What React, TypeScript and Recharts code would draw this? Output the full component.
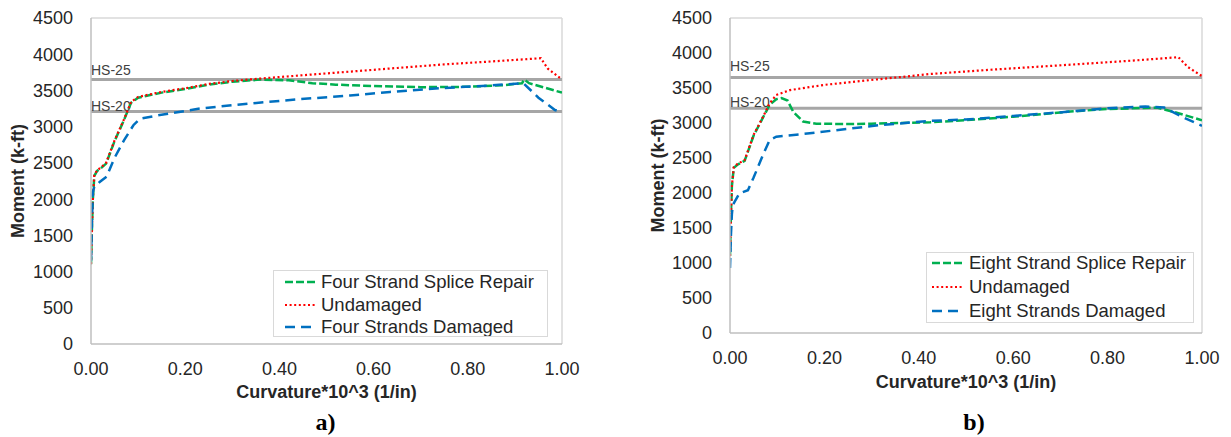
import React from 'react';
import { LineChart, Line, XAxis, YAxis, ReferenceLine, Legend } from 'recharts';

const FONT = '"Liberation Sans", Arial, Helvetica, sans-serif';

const xTicks = [0, 0.2, 0.4, 0.6, 0.8, 1.0];
const yTicks = [0, 500, 1000, 1500, 2000, 2500, 3000, 3500, 4000, 4500];
const hs25Value = 3650;
const hs20Value = 3210;

const xTitle = 'Curvature*10^3 (1/in)';
const yTitle = 'Moment (k-ft)';

// Panel a) [curvature, moment]
const aRepair: [number, number][] = [
  [0, 1100], [0.002, 1600], [0.004, 2000], [0.007, 2320], [0.013, 2390], [0.02, 2420],
  [0.032, 2490], [0.05, 2800], [0.07, 3090], [0.085, 3330], [0.1, 3400], [0.15, 3470],
  [0.2, 3520], [0.25, 3580], [0.3, 3620], [0.36, 3650], [0.42, 3640], [0.47, 3600],
  [0.52, 3580], [0.6, 3560], [0.7, 3545], [0.8, 3550], [0.88, 3575], [0.915, 3600],
  [0.92, 3650], [0.93, 3600], [1.0, 3470],
];
const aUndamaged: [number, number][] = [
  [0, 1100], [0.002, 1600], [0.004, 2000], [0.007, 2330], [0.013, 2400], [0.02, 2430],
  [0.032, 2500], [0.05, 2810], [0.07, 3100], [0.085, 3340], [0.1, 3410], [0.15, 3480],
  [0.2, 3530], [0.25, 3590], [0.3, 3630], [0.36, 3665], [0.45, 3710], [0.55, 3760],
  [0.65, 3810], [0.75, 3860], [0.85, 3900], [0.955, 3945], [0.97, 3800], [1.0, 3650],
];
const aDamaged: [number, number][] = [
  [0, 1150], [0.002, 1700], [0.004, 2100], [0.007, 2170], [0.019, 2240], [0.033, 2310],
  [0.05, 2570], [0.07, 2810], [0.09, 3020], [0.104, 3110], [0.146, 3160], [0.231, 3250],
  [0.338, 3320], [0.444, 3380], [0.55, 3430], [0.635, 3480], [0.741, 3530], [0.85, 3570],
  [0.918, 3600], [0.95, 3400], [0.985, 3230], [1.0, 3200],
];

// Panel b)
const bRepair: [number, number][] = [
  [0, 1100], [0.002, 1700], [0.004, 2100], [0.008, 2360], [0.017, 2410], [0.031, 2460],
  [0.05, 2820], [0.07, 3080], [0.084, 3260], [0.098, 3340], [0.109, 3355], [0.122, 3320],
  [0.134, 3160], [0.155, 3020], [0.183, 2990], [0.25, 2985], [0.3, 2990], [0.36, 3000],
  [0.424, 3010], [0.5, 3040], [0.6, 3090], [0.714, 3160], [0.8, 3200], [0.905, 3220],
  [0.95, 3140], [1.0, 3040],
];
const bUndamaged: [number, number][] = [
  [0, 1100], [0.002, 1700], [0.004, 2100], [0.008, 2370], [0.017, 2420], [0.031, 2470],
  [0.05, 2830], [0.07, 3090], [0.084, 3280], [0.098, 3400], [0.127, 3470], [0.2, 3545],
  [0.3, 3615], [0.36, 3655], [0.424, 3700], [0.55, 3760], [0.714, 3830], [0.85, 3890],
  [0.95, 3940], [0.97, 3800], [1.0, 3670],
];
const bDamaged: [number, number][] = [
  [0, 930], [0.002, 1400], [0.004, 1700], [0.006, 1830], [0.02, 1995], [0.038, 2040],
  [0.05, 2220], [0.07, 2545], [0.084, 2757], [0.098, 2805], [0.169, 2853], [0.318, 2971],
  [0.424, 3030], [0.5, 3050], [0.6, 3100], [0.714, 3160], [0.8, 3210], [0.88, 3235],
  [0.92, 3220], [0.96, 3080], [1.0, 2960],
];

const aNames = ['Four Strand Splice Repair', 'Undamaged', 'Four Strands Damaged'];
const bNames = ['Eight Strand Splice Repair', 'Undamaged', 'Eight Strands Damaged'];

const COLORS = ['#00b050', '#ff0000', '#0070c0'];
const DASHES = ['8 3', '2 2.6', '10 6'];
const WIDTHS = [2.5, 2.2, 2.5];

const toData = (pts: [number, number][]) => pts.map(([x, y]) => ({ x, y }));

const hsLabel = (text: string, dy: number) => (props: any) => {
  const vb = props.viewBox || {};
  return (
    <text x={vb.x} y={(vb.y || 0) + dy} fontSize={14} fill="#404040" fontFamily={FONT}>
      {text}
    </text>
  );
};

type LegendCfg = {
  left: number; top: number; width: number; height: number;
  padL: number; rowH: number; offY: number; gap: number;
};

const LegendBox = ({ names, cfg }: { names: string[]; cfg: LegendCfg }) => (
  <div
    style={{
      width: cfg.width, height: cfg.height, boxSizing: 'border-box',
      border: '1px solid #d9d9d9', background: '#fff', paddingLeft: cfg.padL,
      fontFamily: FONT, fontSize: 18.5, color: '#262626', overflow: 'hidden',
    }}
  >
    <div style={{ position: 'relative', top: cfg.offY }}>
      {names.map((n, i) => (
        <div key={n + i} style={{ height: cfg.rowH, display: 'flex', alignItems: 'center', whiteSpace: 'nowrap' }}>
          <svg width={32} height={6} style={{ marginRight: cfg.gap, flex: 'none' }}>
            <line x1={0} y1={3} x2={32} y2={3} stroke={COLORS[i]} strokeWidth={WIDTHS[i]} strokeDasharray={DASHES[i]} />
          </svg>
          <span>{n}</span>
        </div>
      ))}
    </div>
  </div>
);

type PanelProps = {
  left: number; width: number; height: number;
  marginRight: number; yAxisWidth: number; xAxisHeight: number;
  series: [number, number][][]; names: string[];
  legend: LegendCfg; yTitleOffset: number; xTitleOffset: number;
  hs25dy: number; hs20dy: number;
};

const Panel = (p: PanelProps) => (
  <div style={{ position: 'absolute', left: p.left, top: 0, width: p.width, height: p.height }}>
    <LineChart
      width={p.width}
      height={p.height}
      margin={{ top: 18, right: p.marginRight, bottom: 0, left: 0 }}
      style={{ fontFamily: FONT }}
    >
      <XAxis
        type="number"
        dataKey="x"
        domain={[0, 1]}
        ticks={xTicks}
        allowDataOverflow
        tickFormatter={(v: number) => v.toFixed(2)}
        height={p.xAxisHeight}
        tickLine={false}
        tickSize={0}
        tickMargin={18}
        axisLine={{ stroke: '#bfbfbf', strokeWidth: 1.5 }}
        tick={{ fontSize: 18, fill: '#262626', fontFamily: FONT }}
        label={{
          value: xTitle, position: 'insideBottom', offset: p.xTitleOffset,
          style: { fontWeight: 700, fontSize: 18, fill: '#262626', fontFamily: FONT },
        }}
      />
      <YAxis
        type="number"
        domain={[0, 4500]}
        ticks={yTicks}
        allowDataOverflow
        width={p.yAxisWidth}
        tickLine={false}
        tickSize={0}
        tickMargin={18}
        axisLine={{ stroke: '#bfbfbf', strokeWidth: 1.5 }}
        tick={{ fontSize: 18, fill: '#262626', fontFamily: FONT }}
        label={{
          value: yTitle, angle: -90, position: 'insideLeft', offset: p.yTitleOffset,
          style: { textAnchor: 'middle', fontWeight: 700, fontSize: 18, fill: '#262626', fontFamily: FONT },
        }}
      />
      <ReferenceLine y={4500} stroke="#d9d9d9" strokeWidth={1.5} />
      <ReferenceLine x={1} stroke="#d9d9d9" strokeWidth={1.5} />
      <ReferenceLine y={hs25Value} stroke="#a6a6a6" strokeWidth={3} label={hsLabel('HS-25', p.hs25dy)} />
      <ReferenceLine y={hs20Value} stroke="#a6a6a6" strokeWidth={3} label={hsLabel('HS-20', p.hs20dy)} />
      {p.series.map((s, i) => (
        <Line
          key={p.names[i] + i}
          data={toData(s)}
          dataKey="y"
          name={p.names[i]}
          type="linear"
          stroke={COLORS[i]}
          strokeWidth={WIDTHS[i]}
          strokeDasharray={DASHES[i]}
          dot={false}
          activeDot={false}
          isAnimationActive={false}
        />
      ))}
      <Legend
        layout="vertical"
        align="center"
        verticalAlign="middle"
        wrapperStyle={{ position: 'absolute', left: p.legend.left, top: p.legend.top, width: p.legend.width, height: p.legend.height }}
        content={() => <LegendBox names={p.names} cfg={p.legend} />}
      />
    </LineChart>
  </div>
);

const subStyle: React.CSSProperties = {
  position: 'absolute', top: 410, width: 60, textAlign: 'center',
  fontFamily: '"Liberation Serif", "Times New Roman", serif', fontWeight: 700,
  fontSize: 24, lineHeight: '24px', color: '#000',
};

export default function App() {
  return (
    <div style={{ position: 'absolute', left: 0, top: 0, width: 1231, height: 437, background: '#fff', overflow: 'hidden' }}>
      <Panel
        left={0} width={600} height={437}
        marginRight={38} yAxisWidth={91} xAxisHeight={93}
        series={[aRepair, aUndamaged, aDamaged]} names={aNames}
        legend={{ left: 273, top: 270, width: 275, height: 67, padL: 11, rowH: 22.5, offY: 0, gap: 4 }}
        yTitleOffset={18} xTitleOffset={39}
        hs25dy={-5} hs20dy={0}
      />
      <Panel
        left={630} width={601} height={437}
        marginRight={29} yAxisWidth={100} xAxisHeight={104}
        series={[bRepair, bUndamaged, bDamaged]} names={bNames}
        legend={{ left: 296, top: 252, width: 268, height: 71, padL: 5, rowH: 24, offY: -2, gap: 5 }}
        yTitleOffset={28} xTitleOffset={49}
        hs25dy={-7} hs20dy={-1}
      />
      <div style={{ ...subStyle, left: 295.5 }}>a)</div>
      <div style={{ ...subStyle, left: 944 }}>b)</div>
    </div>
  );
}
